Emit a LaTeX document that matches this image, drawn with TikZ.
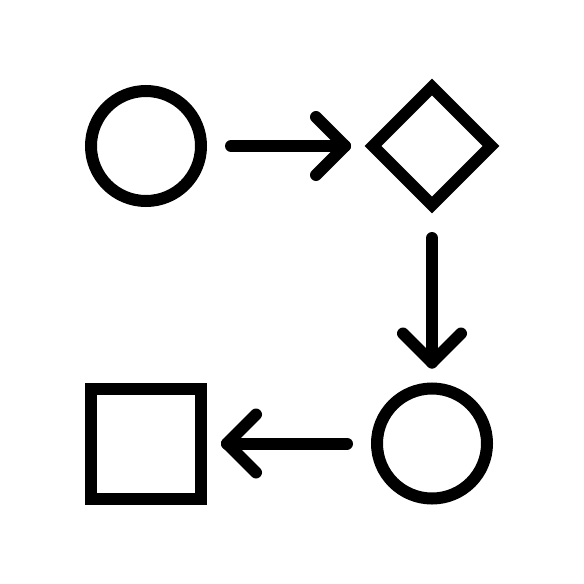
\documentclass[tikz,border=0pt]{standalone}
\usetikzlibrary{shapes.geometric,calc}
\begin{document}
\begin{tikzpicture}[x=1pt,y=-1pt,
  shapebox/.style={draw=black,line width=12pt,outer sep=0pt,inner sep=0pt},
  conn/.style={draw=black,line width=12pt,line cap=round,line join=round}]
\useasboundingbox[fill=white] (0,0) rectangle (584,584);
\node[shapebox,circle,minimum size=110pt] (c1) at (146,146) {};
\node[shapebox,diamond,aspect=1,minimum width=118pt,minimum height=118pt] (d) at (432,146) {};
\node[shapebox,circle,minimum size=110pt] (c2) at (432,443.5) {};
\node[shapebox,rectangle,minimum size=110pt] (sq) at (146,443.5) {};
% arrow 1
\draw[conn,shorten <=30pt,shorten >=28pt] (c1.east) -- (d.west);
\draw[conn] ($(d.west)+(-57,-29)$) -- ($(d.west)+(-28,0)$) -- ($(d.west)+(-57,29)$);
% arrow 2
\draw[conn,shorten <=33pt,shorten >=26pt] (d.south) -- (c2.north);
\draw[conn] ($(c2.north)+(-29,-55)$) -- ($(c2.north)+(0,-26)$) -- ($(c2.north)+(29,-55)$);
% arrow 3
\draw[conn,shorten <=30pt,shorten >=26pt] (c2.west) -- (sq.east);
\draw[conn] ($(sq.east)+(55,-29)$) -- ($(sq.east)+(26,0)$) -- ($(sq.east)+(55,29)$);
\end{tikzpicture}
\end{document}
